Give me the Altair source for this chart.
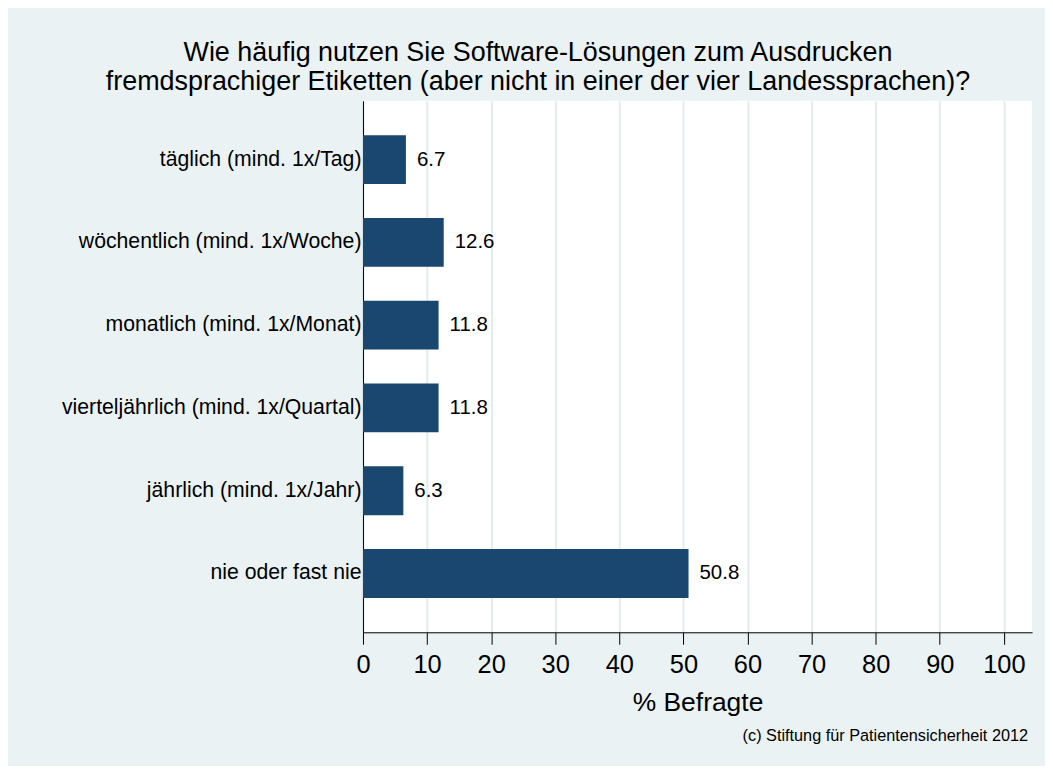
import altair as alt
import pandas as pd

categories = [
    "täglich (mind. 1x/Tag)",
    "wöchentlich (mind. 1x/Woche)",
    "monatlich (mind. 1x/Monat)",
    "vierteljährlich (mind. 1x/Quartal)",
    "jährlich (mind. 1x/Jahr)",
    "nie oder fast nie",
]
values = [6.7, 12.6, 11.8, 11.8, 6.3, 50.8]
x_ticks = [0, 10, 20, 30, 40, 50, 60, 70, 80, 90, 100]

title_lines = [
    "Wie häufig nutzen Sie Software-Lösungen zum Ausdrucken",
    "fremdsprachiger Etiketten (aber nicht in einer der vier Landessprachen)?",
]
credit = "(c) Stiftung für Patientensicherheit 2012"

df = pd.DataFrame({"cat": categories, "val": values})
df["lab"] = [f"{v:.1f}" for v in values]

FONT = "Liberation Sans"
W, H = 671, 533
BAR = "#1A476F"
BG = "#EAF2F3"

x = alt.X(
    "val:Q",
    scale=alt.Scale(domain=[0, 104.4], nice=False, zero=True),
    axis=alt.Axis(
        values=x_ticks,
        title="% Befragte",
        titleFontSize=26.5,
        titleFont=FONT,
        titleFontWeight="normal",
        titleColor="black",
        titlePadding=12,
        labelFontSize=25.5,
        labelFont=FONT,
        labelColor="black",
        labelPadding=8,
        tickSize=12,
        tickColor="black",
        domainColor="black",
        grid=True,
        gridColor="#E2ECEF",
        gridWidth=2,
        labelFlush=False,
    ),
)
y = alt.Y(
    "cat:N",
    sort=categories,
    scale=alt.Scale(paddingInner=0.41, paddingOuter=0.415),
    axis=alt.Axis(
        title=None,
        labelFontSize=21.3,
        labelFont=FONT,
        labelColor="black",
        labelPadding=2,
        ticks=False,
        domainColor="black",
        grid=False,
        labelLimit=500,
    ),
)

bars = alt.Chart(df).mark_bar(color=BAR).encode(x=x, y=y)
labels = alt.Chart(df).mark_text(
    align="left", baseline="middle", dx=11, fontSize=20.5, font=FONT, color="black"
).encode(x="val:Q", y=alt.Y("cat:N", sort=categories), text="lab:N")

credit_df = pd.DataFrame({"t": [credit]})
credit_mark = alt.Chart(credit_df).mark_text(
    align="right", baseline="alphabetic", fontSize=16.3, font=FONT, color="black"
).encode(x=alt.value(667), y=alt.value(642), text="t:N")

chart = (
    alt.layer(bars, labels, credit_mark)
    .properties(
        width=W,
        height=H,
        background=BG,
        padding={"left": 356, "top": 92, "right": 13, "bottom": 133},
        autosize=alt.AutoSizeParams(type="none"),
        title=alt.TitleParams(
            text=title_lines,
            fontSize=27,
            font=FONT,
            fontWeight="normal",
            color="black",
            anchor="middle",
            frame="group",
            dx=-160,
            lineHeight=28.5,
            offset=5,
        ),
    )
    .configure_view(fill="white", stroke=None)
)

chart.save("out.html", embed_options={"renderer": "svg", "actions": False})
